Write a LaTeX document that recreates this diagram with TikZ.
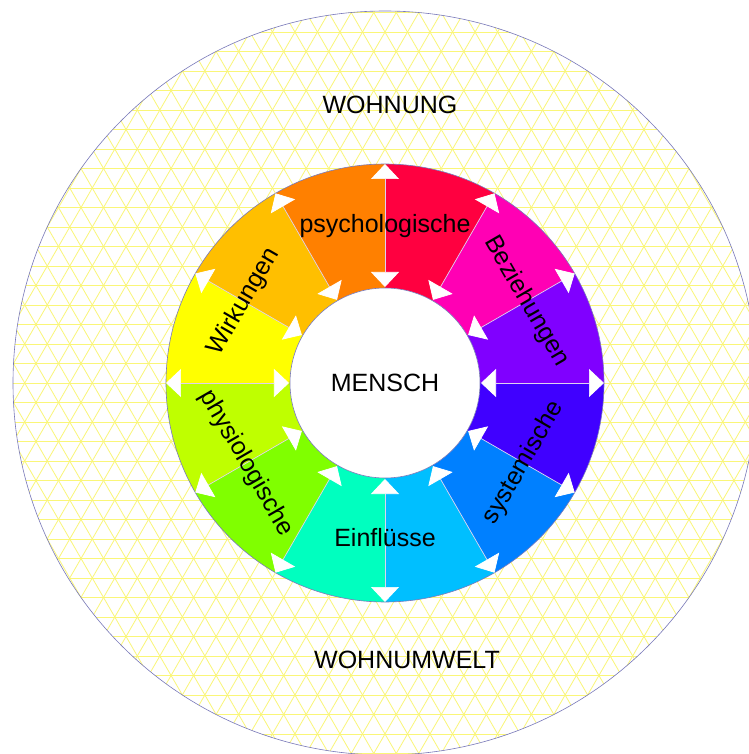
\documentclass[tikz,border=0pt]{standalone}
\usepackage{fontspec}
\setmainfont{Liberation Sans}
\usetikzlibrary{arrows.meta}
\definecolor{gridyellow}{RGB}{250,246,120}
\definecolor{rimblue}{RGB}{120,120,185}
\definecolor{spokeline}{RGB}{222,210,240}
\definecolor{c1}{HTML}{FF0040}
\definecolor{c2}{HTML}{FF00B4}
\definecolor{c3}{HTML}{8000FF}
\definecolor{c4}{HTML}{4000FF}
\definecolor{c5}{HTML}{0080FF}
\definecolor{c6}{HTML}{00BFFF}
\definecolor{c7}{HTML}{00FFBF}
\definecolor{c8}{HTML}{80FF00}
\definecolor{c9}{HTML}{BFFF00}
\definecolor{c10}{HTML}{FFFF00}
\definecolor{c11}{HTML}{FFBF00}
\definecolor{c12}{HTML}{FF8000}
\begin{document}
\begin{tikzpicture}[x=1bp,y=1bp,
  txt/.style={font=\fontsize{25bp}{30bp}\selectfont, inner sep=0pt},
  gridline/.style={draw=gridyellow, line width=0.8bp},
  outerrim/.style={draw=rimblue, line width=0.6bp},
  spoke/.style={draw=spokeline, line width=0.7bp,
    {Triangle[length=15bp,width=28bp,color=white]}-{Triangle[length=15bp,width=28bp,color=white]}}]
\useasboundingbox (-385,-371) rectangle (364,383);
\clip (-385,-371) rectangle (364,383);
\fill[white] (-385,-371) rectangle (364,383);
% triangular lattice inside the large disc
\begin{scope}
  \clip (0,0) circle[radius=372];
  \foreach \k in {-20,...,20}
    \draw[gridline] (-380,{19.5*\k}) -- (380,{19.5*\k});
  \foreach \n in {-20,...,20} {
    \draw[gridline] ({22.517*\n-220},-381) -- ({22.517*\n+220},381);
    \draw[gridline] ({22.517*\n+220},-381) -- ({22.517*\n-220},381);
  }
\end{scope}
\draw[outerrim] (0,0) circle[radius=372];
% colour ring: twelve sectors of 30 degrees
\foreach \a/\c in {90/c1,60/c2,30/c3,0/c4,-30/c5,-60/c6,-90/c7,-120/c8,-150/c9,-180/c10,-210/c11,-240/c12}
  \fill[\c] (\a:95) arc[start angle=\a, end angle={\a-30}, radius=95]
    -- ({\a-30}:219) arc[start angle={\a-30}, end angle=\a, radius=219] -- cycle;
\draw[outerrim] (0,0) circle[radius=219];
\node[circle, draw=rimblue, line width=0.6bp, fill=white, minimum size=190bp, txt] (mensch) at (0,0) {MENSCH};
% double arrows along the sector borders
\foreach \a in {0,30,...,330} {
  \coordinate (in\a) at (\a:96);
  \coordinate (out\a) at (\a:219);
  \draw[spoke] (in\a) -- (out\a);
}
\node[txt] (psy) at (90:157) {psychologische};
\node[txt] (ein) at (-90:155) {Einflüsse};
\node[txt, rotate=60] (wir) at (150:163) {Wirkungen};
\node[txt, rotate=-60] (bez) at (30:163) {Beziehungen};
\node[txt, rotate=60] (sys) at (-30:160) {systemische};
\node[txt, rotate=-60] (phy) at (-150:160) {physiologische};
\node[txt] (wohnung) at (5,278) {WOHNUNG};
\node[txt] (umwelt) at (22,-277) {WOHNUMWELT};
\end{tikzpicture}
\end{document}
